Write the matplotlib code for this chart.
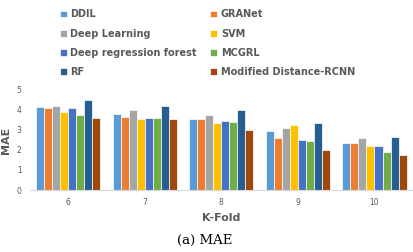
import matplotlib
matplotlib.use("Agg")
import matplotlib.pyplot as plt
import numpy as np

folds = ["6", "7", "8", "9", "10"]
methods = ["DDIL", "GRANet", "Deep Learning", "SVM", "Deep regression forest",
           "MCGRL", "RF", "Modified Distance-RCNN"]
ddil = [4.17, 3.80, 3.53, 2.97, 2.35]
granet = [4.10, 3.63, 3.53, 2.60, 2.35]
deep_learning = [4.22, 3.98, 3.75, 3.08, 2.58]
svm = [3.92, 3.55, 3.35, 3.23, 2.18]
drf = [4.08, 3.58, 3.43, 2.50, 2.18]
mcgrl = [3.75, 3.58, 3.40, 2.43, 1.90]
rf = [4.48, 4.20, 4.00, 3.35, 2.67]
mdrcnn = [3.58, 3.57, 3.02, 2.00, 1.73]
series = [ddil, granet, deep_learning, svm, drf, mcgrl, rf, mdrcnn]
colors = ["#5B9BD5", "#ED7D31", "#A5A5A5", "#FFC000", "#4472C4",
          "#70AD47", "#255E91", "#9E480E"]

fig = plt.figure(figsize=(4.14, 2.52), dpi=100)
ax = fig.add_axes([0.072, 0.246, 0.925, 0.397])

x = np.arange(len(folds))
n = len(series)
bw = 0.84 / n
for i, (vals, c, m) in enumerate(zip(series, colors, methods)):
    ax.bar(x + (i - (n - 1) / 2) * bw, vals, bw, color=c, label=m,
           edgecolor="white", linewidth=0.5)

ax.set_xlim(-0.5, len(folds) - 0.5)
ax.set_ylim(0, 5)
ax.set_yticks(range(6))
ax.set_xticks(x)
ax.set_xticklabels(folds)
ax.tick_params(axis="both", length=0, labelsize=5.5, colors="#595959", pad=6)
for s in ["top", "right", "left"]:
    ax.spines[s].set_visible(False)
ax.spines["bottom"].set_color("#D9D9D9")
ax.spines["bottom"].set_linewidth(0.8)

ax.set_ylabel("MAE", fontsize=8, fontweight="bold", color="#595959", labelpad=4)
ax.set_xlabel("K-Fold", fontsize=8, fontweight="bold", color="#595959", labelpad=4)

handles, labels = ax.get_legend_handles_labels()
order = [0, 2, 4, 6, 1, 3, 5, 7]
leg = fig.legend([handles[i] for i in order], [labels[i] for i in order],
                 ncol=2, loc="upper left",
                 bbox_to_anchor=(0.128, 0.99), frameon=False,
                 prop={"size": 7, "weight": "bold"},
                 handlelength=0.7, handleheight=0.7, handletextpad=0.4,
                 labelspacing=0.95, columnspacing=1.35, borderaxespad=0.3)
for t in leg.get_texts():
    t.set_color("#595959")

fig.text(0.495, 0.045, "(a) MAE", ha="center", va="center", fontsize=9.5,
         family="DejaVu Serif")

fig.savefig("out.png", dpi=100)
